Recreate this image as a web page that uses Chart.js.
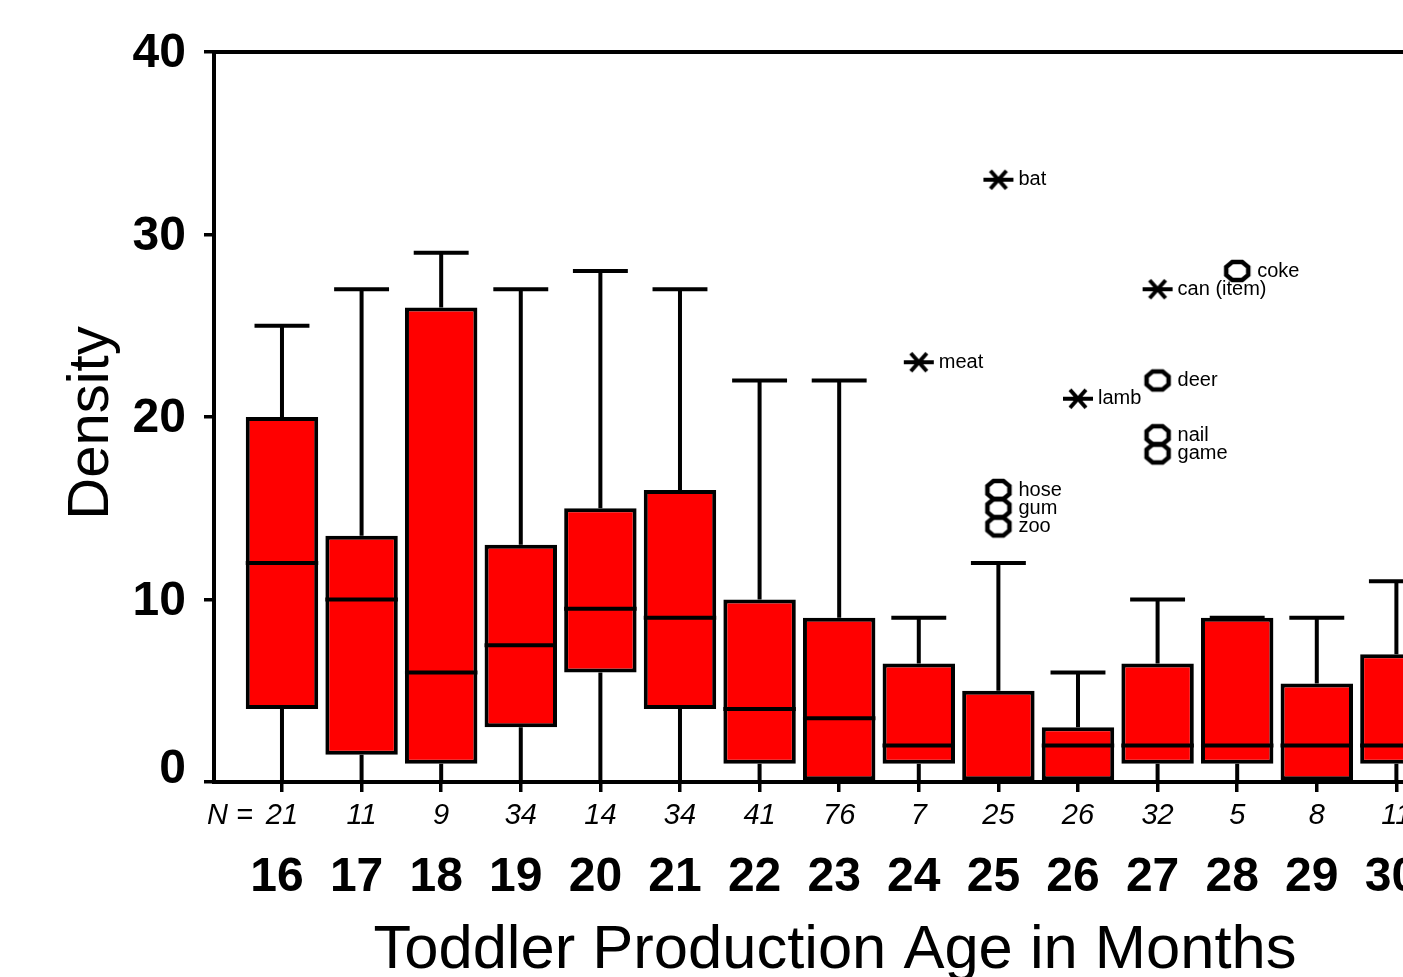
<!DOCTYPE html>
<html>
<head>
<meta charset="utf-8">
<title>Density by toddler production age</title>
<script src="https://cdn.jsdelivr.net/npm/chart.js@4/dist/chart.umd.min.js"></script>
<style>
  html, body { margin: 0; padding: 0; background: #fff; overflow: hidden; }
  #wrap { width: 1403px; height: 977px; position: relative; }
</style>
</head>
<body>
<div id="wrap"><canvas id="densityChart" width="1403" height="977"></canvas></div>
<script>
// ages (months) and group sizes
const ages = [16, 17, 18, 19, 20, 21, 22, 23, 24, 25, 26, 27, 28, 29, 30];
const nCounts = [21, 11, 9, 34, 14, 34, 41, 76, 7, 25, 26, 32, 5, 8, 11];

// box plot summaries per age
const whiskerLow  = [0, 0, 0, 0, 0, 0, 0, 0, 0, 0, 0, 0, 0, 0, 0];
const q1          = [4, 1.5, 1, 3, 6, 4, 1, 0, 1, 0, 0, 1, 1, 0, 1];
const medians     = [12, 10, 6, 7.5, 9.5, 9, 4, 3.5, 2, 0, 2, 2, 2, 2, 2];
const q3          = [20, 13.5, 26, 13, 15, 16, 10, 9, 6.5, 5, 3, 6.5, 9, 5.4, 7];
const whiskerHigh = [25, 27, 29, 27, 28, 27, 22, 22, 9, 12, 6, 10, 9, 9, 11];

// outliers (circles) and extremes (asterisks)
const outlierAges   = [25, 25, 25, 27, 27, 27, 28];
const outlierValues = [16, 15, 14, 22, 19, 18, 28];
const outlierNames  = ['hose', 'gum', 'zoo', 'deer', 'nail', 'game', 'coke'];
const extremeAges   = [25, 24, 26, 27];
const extremeValues = [33, 23, 21, 27];
const extremeNames  = ['bat', 'meat', 'lamb', 'can (item)'];

const yTicks = [0, 10, 20, 30, 40];

const FONT = "'Liberation Sans', Arial, Helvetica, sans-serif";

function makeAsterisk() {
    const c = document.createElement('canvas');
    c.width = 34; c.height = 26;
    const g = c.getContext('2d');
    g.strokeStyle = '#000';
    g.lineWidth = 4;
    g.beginPath();
    g.moveTo(2, 13); g.lineTo(32, 13);
    g.moveTo(9, 4); g.lineTo(25, 22);
    g.moveTo(25, 4); g.lineTo(9, 22);
    g.stroke();
    return c;
}

function makeOctagon() {
    const c = document.createElement('canvas');
    c.width = 30; c.height = 26;
    const g = c.getContext('2d');
    const l = 4, r = 26, t = 4, b = 22, k = 6, kv = 5;
    g.strokeStyle = '#000';
    g.lineWidth = 4.5;
    g.beginPath();
    g.moveTo(l + k, t); g.lineTo(r - k, t); g.lineTo(r, t + kv);
    g.lineTo(r, b - kv); g.lineTo(r - k, b); g.lineTo(l + k, b);
    g.lineTo(l, b - kv); g.lineTo(l, t + kv);
    g.closePath();
    g.stroke();
    return c;
}

// whiskers, medians, frame and all the text
const boxParts = {
    id: 'boxParts',
    beforeDatasetsDraw(chart) {
        const {ctx, scales: {x, y}} = chart;
        const capHalf = x.getPixelForValue(ages[0] + 0.345) - x.getPixelForValue(ages[0]);
        ctx.save();
        ctx.strokeStyle = '#000';
        ctx.lineWidth = 4;
        ages.forEach((age, i) => {
            const px = x.getPixelForValue(age);
            const yHigh = y.getPixelForValue(whiskerHigh[i]);
            const yLow = y.getPixelForValue(whiskerLow[i]);
            ctx.beginPath();
            ctx.moveTo(px, y.getPixelForValue(q3[i]));
            ctx.lineTo(px, yHigh);
            ctx.moveTo(px, y.getPixelForValue(q1[i]));
            ctx.lineTo(px, yLow);
            ctx.moveTo(px - capHalf, yHigh);
            ctx.lineTo(px + capHalf, yHigh);
            ctx.stroke();
        });
        ctx.restore();
    },
    afterDatasetsDraw(chart) {
        const {ctx, chartArea, scales: {x, y}} = chart;
        const bars = chart.getDatasetMeta(0).data;
        ctx.save();

        // medians
        ctx.strokeStyle = '#000';
        ctx.lineWidth = 4;
        bars.forEach((bar, i) => {
            const py = y.getPixelForValue(medians[i]);
            ctx.beginPath();
            ctx.moveTo(bar.x - bar.width / 2, py);
            ctx.lineTo(bar.x + bar.width / 2, py);
            ctx.stroke();
        });

        // top frame line
        ctx.beginPath();
        ctx.moveTo(chartArea.left, chartArea.top);
        ctx.lineTo(chartArea.right, chartArea.top);
        ctx.stroke();

        // outlier labels
        ctx.fillStyle = '#000';
        ctx.font = '20px ' + FONT;
        ctx.textAlign = 'left';
        ctx.textBaseline = 'middle';
        outlierNames.forEach((name, i) => {
            ctx.fillText(name, x.getPixelForValue(outlierAges[i]) + 20, y.getPixelForValue(outlierValues[i]));
        });
        extremeNames.forEach((name, i) => {
            ctx.fillText(name, x.getPixelForValue(extremeAges[i]) + 20, y.getPixelForValue(extremeValues[i]));
        });

        // y tick labels
        ctx.font = 'bold 48px ' + FONT;
        ctx.textAlign = 'right';
        yTicks.forEach(v => {
            const py = Math.min(y.getPixelForValue(v) + 2, chartArea.bottom - 12);
            ctx.fillText(String(v), chartArea.left - 28, py);
        });

        // N row
        ctx.font = 'italic 29px ' + FONT;
        ctx.textAlign = 'right';
        ctx.fillText('N =', x.getPixelForValue(ages[0]) - 29, chartArea.bottom + 34);
        ctx.textAlign = 'center';
        ages.forEach((age, i) => {
            ctx.fillText(String(nCounts[i]), x.getPixelForValue(age), chartArea.bottom + 34);
        });

        // age labels
        ctx.font = 'bold 48px ' + FONT;
        ages.forEach(age => {
            ctx.fillText(String(age), x.getPixelForValue(age) - 5, chartArea.bottom + 96);
        });

        // axis titles
        ctx.font = '61.5px ' + FONT;
        ctx.textBaseline = 'alphabetic';
        ctx.fillText('Toddler Production Age in Months', 835, 968);

        ctx.save();
        ctx.translate(92, 423);
        ctx.rotate(-Math.PI / 2);
        ctx.font = '58px ' + FONT;
        ctx.textBaseline = 'middle';
        ctx.fillText('Density', 0, 0);
        ctx.restore();

        ctx.restore();
    }
};

const canvas = document.getElementById('densityChart');

new Chart(canvas, {
    data: {
        datasets: [{
            type: 'bar',
            data: ages.map((age, i) => ({x: age, y: [q1[i], q3[i]]})),
            backgroundColor: '#ff0000',
            borderColor: '#000',
            borderWidth: 4,
            borderSkipped: false,
            barPercentage: 0.91,
            categoryPercentage: 1
        }, {
            type: 'scatter',
            data: outlierAges.map((age, i) => ({x: age, y: outlierValues[i]})),
            pointStyle: makeOctagon(),
            pointRadius: 12
        }, {
            type: 'scatter',
            data: extremeAges.map((age, i) => ({x: age, y: extremeValues[i]})),
            pointStyle: makeAsterisk(),
            pointRadius: 12
        }]
    },
    options: {
        responsive: false,
        animation: false,
        devicePixelRatio: 1,
        layout: {
            autoPadding: false,
            padding: {top: 52, right: 0, bottom: 0, left: 0}
        },
        plugins: {
            legend: {display: false},
            tooltip: {enabled: false}
        },
        scales: {
            x: {
                type: 'linear',
                offset: false,
                min: 15.146,
                max: 30.083,
                afterBuildTicks: scale => {
                    scale.ticks = ages.map(v => ({value: v}));
                },
                afterFit: scale => {
                    scale.height = 195;
                },
                ticks: {display: false},
                grid: {
                    offset: false,
                    drawOnChartArea: false,
                    drawTicks: true,
                    tickLength: 10,
                    color: '#000',
                    lineWidth: 3.5
                },
                border: {display: true, color: '#000', width: 4}
            },
            y: {
                min: 0,
                max: 40,
                afterBuildTicks: scale => {
                    scale.ticks = yTicks.map(v => ({value: v}));
                },
                afterFit: scale => {
                    scale.width = 214;
                },
                ticks: {display: false},
                grid: {
                    drawOnChartArea: false,
                    drawTicks: true,
                    tickLength: 10,
                    color: '#000',
                    lineWidth: 3.5
                },
                border: {display: true, color: '#000', width: 4}
            }
        }
    },
    plugins: [boxParts]
});
</script>
</body>
</html>
